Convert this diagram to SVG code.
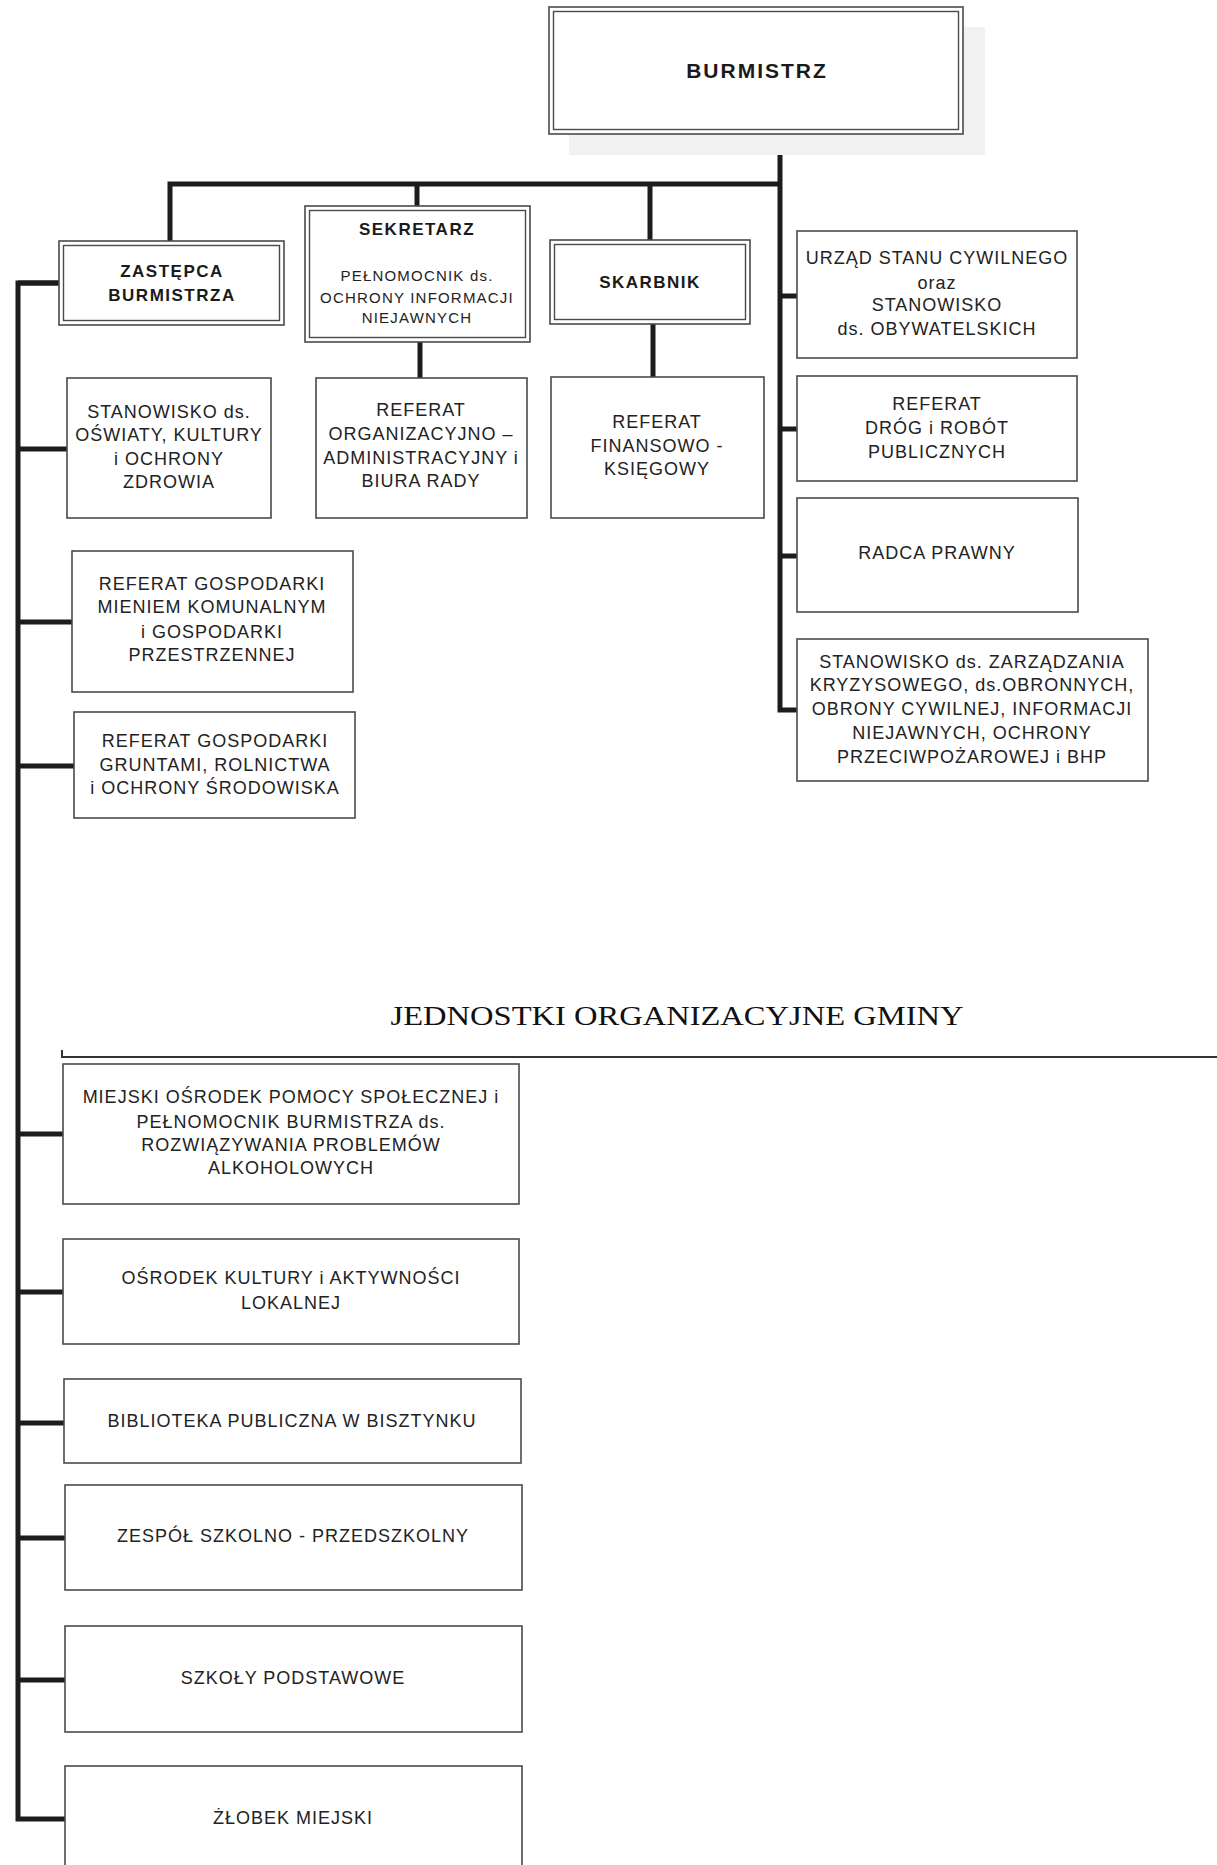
<svg xmlns="http://www.w3.org/2000/svg" width="1217" height="1865" viewBox="0 0 1217 1865">
<style>
.bx{fill:#fff;stroke:#4a4a4a;stroke-width:1.6}
.in{fill:none;stroke:#4a4a4a;stroke-width:1.4}
.t{font-family:"Liberation Sans",Arial,sans-serif;font-size:18px;letter-spacing:1px;fill:#222;text-anchor:middle}
.s{font-size:15px;letter-spacing:1.2px}
.b{font-family:"Liberation Sans",Arial,sans-serif;font-weight:bold;font-size:17px;letter-spacing:1.5px;fill:#1a1a1a;text-anchor:middle}
.bb{font-size:21px;letter-spacing:2px}
.c{fill:none;stroke:#1c1c1c;stroke-width:5;stroke-linejoin:miter}
.ti{font-family:"Liberation Serif","Times New Roman",serif;font-size:28px;fill:#111;text-anchor:middle}
</style>
<rect width="1217" height="1865" fill="#fff"/>
<g id="connectors">
<path class="c" d="M780,134 V710 H797"/>
<path class="c" stroke-width="6" d="M170,241 V184 H780"/>
<path class="c" d="M417,184 V206"/>
<path class="c" d="M650,184 V240"/>
<path class="c" d="M420,342 V378"/>
<path class="c" stroke-width="4" d="M653,324 V377"/>
<path class="c" d="M780,296 H797 M780,429 H797 M780,556 H797"/>
<path class="c" stroke-width="4" d="M59,283 H18 V1819 H65"/>
<path class="c" d="M18,283 H59 M18,449 H67 M18,622 H72 M18,766 H74 M18,1134 H63 M18,1292 H63 M18,1423 H64 M18,1538 H65 M18,1680 H65"/>
</g>
<g id="burmistrz">
<rect x="569" y="27" width="416" height="128" fill="#f1f1f1"/>
<rect class="bx" x="549" y="7" width="414" height="127"/>
<rect class="in" x="553.5" y="11.5" width="405" height="118"/>
<text class="b bb" x="757" y="78">BURMISTRZ</text>
</g>
<g id="zastepca">
<rect class="bx" x="59" y="241" width="225" height="84"/>
<rect class="in" x="63.5" y="245.5" width="216" height="75"/>
<text class="b" x="172" y="277">ZASTĘPCA</text>
<text class="b" x="172" y="301">BURMISTRZA</text>
</g>
<g id="sekretarz">
<rect class="bx" x="305" y="206" width="225" height="136"/>
<rect class="in" x="309.5" y="210.5" width="216" height="127"/>
<text class="b" x="417" y="235">SEKRETARZ</text>
<text class="t s" x="417" y="281">PEŁNOMOCNIK ds.</text>
<text class="t s" x="417" y="303">OCHRONY INFORMACJI</text>
<text class="t s" x="417" y="323">NIEJAWNYCH</text>
</g>
<g id="skarbnik">
<rect class="bx" x="550" y="240" width="200" height="84"/>
<rect class="in" x="554.5" y="244.5" width="191" height="75"/>
<text class="b" x="650" y="288">SKARBNIK</text>
</g>
<g id="oswiata">
<rect class="bx" x="67" y="378" width="204" height="140"/>
<text class="t" x="169" y="418">STANOWISKO ds.</text>
<text class="t" x="169" y="441">OŚWIATY, KULTURY</text>
<text class="t" x="169" y="465">i OCHRONY</text>
<text class="t" x="169" y="488">ZDROWIA</text>
</g>
<g id="ref-org">
<rect class="bx" x="316" y="378" width="211" height="140"/>
<text class="t" x="421" y="416">REFERAT</text>
<text class="t" x="421" y="440">ORGANIZACYJNO –</text>
<text class="t" x="421" y="464">ADMINISTRACYJNY i</text>
<text class="t" x="421" y="487">BIURA RADY</text>
</g>
<g id="ref-fin">
<rect class="bx" x="551" y="377" width="213" height="141"/>
<text class="t" x="657" y="428">REFERAT</text>
<text class="t" x="657" y="452">FINANSOWO -</text>
<text class="t" x="657" y="475">KSIĘGOWY</text>
</g>
<g id="usc">
<rect class="bx" x="797" y="231" width="280" height="127"/>
<text class="t" x="937" y="264">URZĄD STANU CYWILNEGO</text>
<text class="t" x="937" y="289">oraz</text>
<text class="t" x="937" y="311">STANOWISKO</text>
<text class="t" x="937" y="335">ds. OBYWATELSKICH</text>
</g>
<g id="drogi">
<rect class="bx" x="797" y="376" width="280" height="105"/>
<text class="t" x="937" y="410">REFERAT</text>
<text class="t" x="937" y="434">DRÓG i ROBÓT</text>
<text class="t" x="937" y="458">PUBLICZNYCH</text>
</g>
<g id="radca">
<rect class="bx" x="797" y="498" width="281" height="114"/>
<text class="t" x="937" y="559">RADCA PRAWNY</text>
</g>
<g id="kryzys">
<rect class="bx" x="797" y="639" width="351" height="142"/>
<text class="t" x="972" y="668">STANOWISKO ds. ZARZĄDZANIA</text>
<text class="t" x="972" y="691">KRYZYSOWEGO, ds.OBRONNYCH,</text>
<text class="t" x="972" y="715">OBRONY CYWILNEJ, INFORMACJI</text>
<text class="t" x="972" y="739">NIEJAWNYCH, OCHRONY</text>
<text class="t" x="972" y="763">PRZECIWPOŻAROWEJ i BHP</text>
</g>
<g id="gosp-mienie">
<rect class="bx" x="72" y="551" width="281" height="141"/>
<text class="t" x="212" y="590">REFERAT GOSPODARKI</text>
<text class="t" x="212" y="613">MIENIEM KOMUNALNYM</text>
<text class="t" x="212" y="638">i GOSPODARKI</text>
<text class="t" x="212" y="661">PRZESTRZENNEJ</text>
</g>
<g id="gosp-grunty">
<rect class="bx" x="74" y="712" width="281" height="106"/>
<text class="t" x="215" y="747">REFERAT GOSPODARKI</text>
<text class="t" x="215" y="771">GRUNTAMI, ROLNICTWA</text>
<text class="t" x="215" y="794">i OCHRONY ŚRODOWISKA</text>
</g>
<g id="title">
<text class="ti" x="677" y="1025" textLength="573" lengthAdjust="spacingAndGlyphs">JEDNOSTKI ORGANIZACYJNE GMINY</text>
<path fill="none" stroke="#333" stroke-width="2" d="M62,1050 V1057 H1217"/>
</g>
<g id="mops">
<rect class="bx" x="63" y="1064" width="456" height="140"/>
<text class="t" x="291" y="1103">MIEJSKI OŚRODEK POMOCY SPOŁECZNEJ i</text>
<text class="t" x="291" y="1128">PEŁNOMOCNIK BURMISTRZA ds.</text>
<text class="t" x="291" y="1151">ROZWIĄZYWANIA PROBLEMÓW</text>
<text class="t" x="291" y="1174">ALKOHOLOWYCH</text>
</g>
<g id="osrodek">
<rect class="bx" x="63" y="1239" width="456" height="105"/>
<text class="t" x="291" y="1284">OŚRODEK KULTURY i AKTYWNOŚCI</text>
<text class="t" x="291" y="1309">LOKALNEJ</text>
</g>
<g id="biblioteka">
<rect class="bx" x="64" y="1379" width="457" height="84"/>
<text class="t" x="292" y="1427">BIBLIOTEKA PUBLICZNA W BISZTYNKU</text>
</g>
<g id="zespol">
<rect class="bx" x="65" y="1485" width="457" height="105"/>
<text class="t" x="293" y="1542">ZESPÓŁ SZKOLNO - PRZEDSZKOLNY</text>
</g>
<g id="szkoly">
<rect class="bx" x="65" y="1626" width="457" height="106"/>
<text class="t" x="293" y="1684">SZKOŁY PODSTAWOWE</text>
</g>
<g id="zlobek">
<rect class="bx" x="65" y="1766" width="457" height="110"/>
<text class="t" x="293" y="1824">ŻŁOBEK MIEJSKI</text>
</g>
</svg>
